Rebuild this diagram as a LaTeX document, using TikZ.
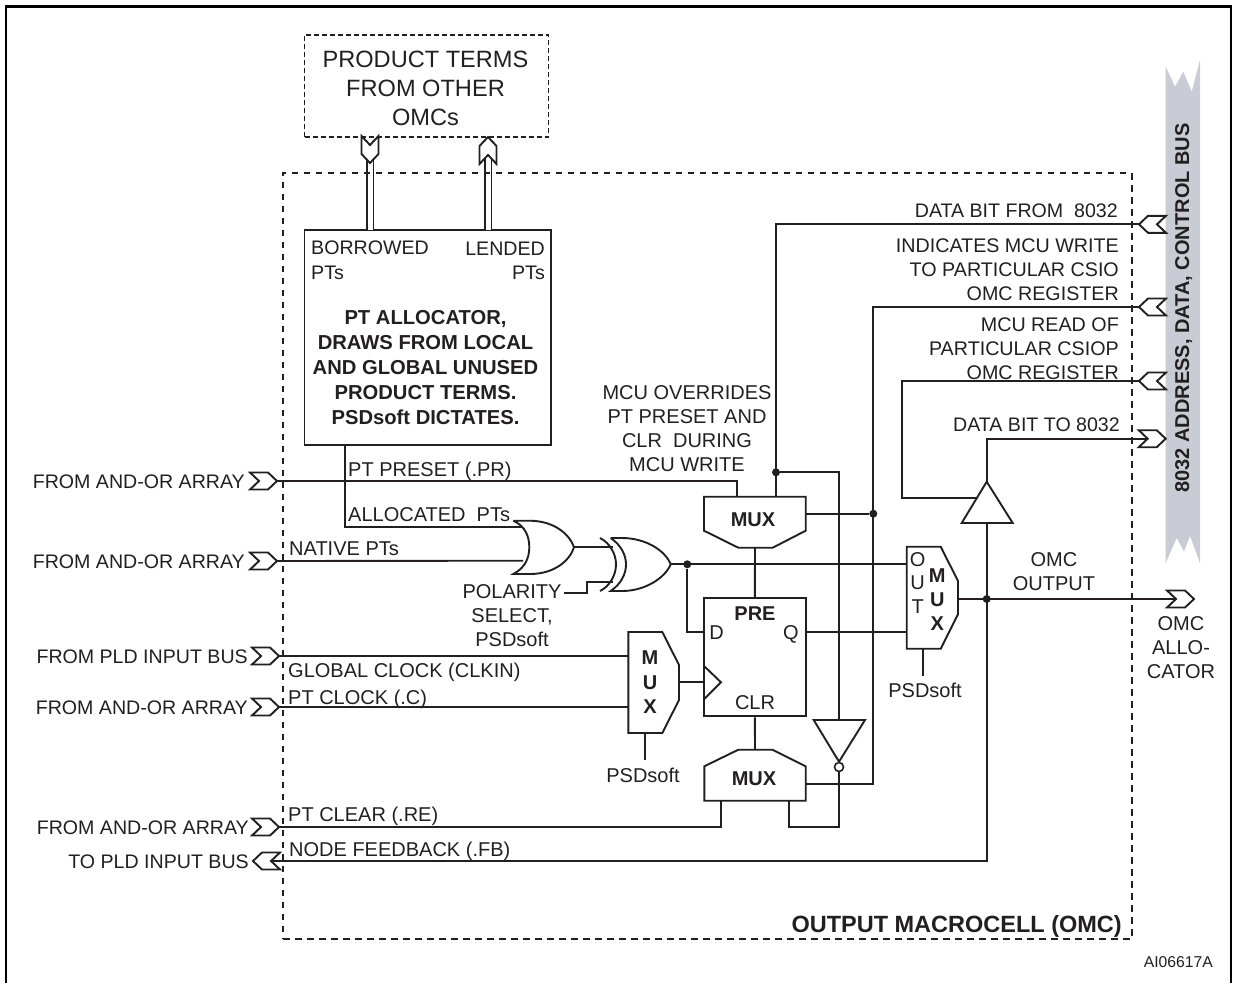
\documentclass[tikz,border=0pt]{standalone}
\usepackage{fontspec}
\setmainfont{Liberation Sans}
\definecolor{ink}{HTML}{231F20}
\definecolor{busgrey}{HTML}{C9CCD4}
\tikzset{
  port/.pic={\draw[wire, fill=white] (0,0) -- (-9,-8.5) -- (-27,-8.5) -- (-18,0) -- (-27,8.5) -- (-9,8.5) -- cycle;}
}
\begin{document}
\begin{tikzpicture}[
  x=1pt, y=-1pt,
  wire/.style={draw=ink, line width=1.9pt, line join=miter},
  gate/.style={draw=ink, line width=1.9pt, fill=white, line join=miter},
  frameline/.style={draw=black, line width=2.6pt},
  dashbox/.style={draw=ink, line width=1.8pt, dash pattern=on 6.5pt off 5.5pt},
  finebox/.style={draw=ink, line width=1.8pt, dash pattern=on 5pt off 3pt},
  solidbox/.style={draw=ink, line width=1.9pt, fill=white, inner sep=0pt},
  twin/.style={draw=ink, double=white, line width=1.9pt, double distance=5pt},
  dot/.style={circle, fill=ink, inner sep=0pt, minimum size=8pt},
  tag/.style={font=\fontsize{20}{24}\selectfont, text=ink, inner sep=0pt, text height=14.3pt, text depth=0pt},
  porttag/.style={font=\fontsize{19.6}{24}\selectfont, text=ink, inner sep=0pt, text height=14.1pt, text depth=0pt},
  block/.style={font=\fontsize{20}{24}\selectfont, text=ink, inner sep=0pt, align=center},
  rblock/.style={font=\fontsize{19.7}{24}\selectfont, text=ink, inner sep=0pt, align=right},
  btag/.style={font=\fontsize{20}{24.5}\selectfont\bfseries, text=ink, inner sep=0pt, text height=14.3pt, text depth=0pt},
]
  \useasboundingbox (0,0) rectangle (1237,983);

  % Frame
  \coordinate (fbl) at (6,983);
  \coordinate (fbr) at (1231,983);
  \coordinate (ftl) at (6,6.5);
  \coordinate (ftr) at (1231,6.5);
  \draw[frameline] (fbl) -- (ftl) -- (ftr) -- (fbr);

  % Address, data and control bus
  \fill[busgrey] (1165.7,66.7) -- (1175,86.7) -- (1183.3,71.7) -- (1191.7,91.7) -- (1200,60)
    -- (1200,563) -- (1190,536) -- (1184,551.7) -- (1176.7,538) -- (1165.7,563) -- cycle;
  \node[btag, rotate=90] (busname) at (1182,308) {8032 ADDRESS, DATA, CONTROL BUS};

  % Boxes
  \node[finebox, minimum width=244pt, minimum height=102.3pt, inner sep=0pt] (other) at (426.5,85.85) {};
  \node[inner sep=0pt, align=center, font=\fontsize{23.6}{29}\selectfont, text=ink] (tother) at (425.5,88) {PRODUCT TERMS\\FROM OTHER\\OMCs};
  \node[solidbox, minimum width=246.5pt, minimum height=215pt] (alloc) at (427.7,337.5) {};
  \node[solidbox, minimum width=101.7pt, minimum height=118.3pt] (ff) at (754.85,657.15) {};

  % Wire points
  \coordinate (pa) at (277,481);
  \coordinate (pb) at (277,561);
  \coordinate (pc) at (279,656);
  \coordinate (pd) at (279,707);
  \coordinate (pe) at (279,827);
  \coordinate (pf) at (253,861);
  \coordinate (pfn) at (272,861);
  \coordinate (db) at (1139,224.3);
  \coordinate (cs) at (1139,307);
  \coordinate (rd) at (1139,381);
  \coordinate (dt) at (1165.7,438.7);
  \coordinate (dtn) at (1147,438.7);
  \coordinate (ot) at (1194,599);
  \coordinate (otn) at (1176,599);
  \coordinate (bor) at (370,230);
  \coordinate (borh) at (370,163);
  \coordinate (borm) at (370,155);
  \coordinate (len) at (488,230);
  \coordinate (lenh) at (488,137);
  \coordinate (lenm) at (488,155);
  \coordinate (aout) at (345,445);
  \coordinate (ora) at (523,526.7);
  \coordinate (orb) at (523,560.7);
  \coordinate (oro) at (574,547.3);
  \coordinate (xa) at (613,547.3);
  \coordinate (xb) at (612.7,581.7);
  \coordinate (xo) at (670.7,564.3);
  \coordinate (polb) at (586.7,581.7);
  \coordinate (pol) at (564,592.7);
  \coordinate (m1a) at (737.3,496.7);
  \coordinate (m1b) at (776,496.7);
  \coordinate (m1s) at (755,547.7);
  \coordinate (m1o) at (805.7,513.7);
  \coordinate (m2a) at (721,800.7);
  \coordinate (m2b) at (788.7,800.7);
  \coordinate (m2l) at (788.7,827);
  \coordinate (m2n) at (755,749.7);
  \coordinate (m2o) at (805.7,784.3);
  \coordinate (wj) at (873.3,784.3);
  \coordinate (ffd) at (704,632);
  \coordinate (ffq) at (805.7,632);
  \coordinate (ffc) at (704,682.3);
  \coordinate (cma) at (628.3,656);
  \coordinate (cmb) at (628.3,707);
  \coordinate (cmo) at (679,682.3);
  \coordinate (cms) at (645,733);
  \coordinate (cmp) at (645,760);
  \coordinate (oma) at (906.7,564.3);
  \coordinate (omb) at (906.7,632);
  \coordinate (omo) at (958,599);
  \coordinate (oms) at (923.3,648.7);
  \coordinate (omp) at (923.3,676);
  \coordinate (bufi) at (986.7,523);
  \coordinate (bufo) at (986.7,481.7);
  \coordinate (bufl) at (975.7,497.7);
  \coordinate (rdl) at (902.3,497.7);
  \coordinate (invi) at (839,720);

  % Twin lines to the other macrocells
  \draw[twin] (bor) -- (borm);
  \draw[twin] (len) -- (lenm);
  \pic[rotate=-90] at (borh) {port};
  \pic[rotate=90] at (lenh) {port};

  % Macrocell outline
  \node[dashbox, minimum width=848.7pt, minimum height=766pt, inner sep=0pt] (omc) at (707.35,556) {};

  % Wires
  \draw[wire] (pa) -| (m1a);
  \draw[wire] (pb) -- (orb);
  \draw[wire] (aout) |- (ora);
  \draw[wire] (oro) -- (xa);
  \draw[wire] (pol) -| (polb) -- (xb);
  \draw[wire] (xo) -- (oma);
  \draw[wire] (pc) -- (cma);
  \draw[wire] (pd) -- (cmb);
  \draw[wire] (cmo) -- (ffc);
  \draw[wire] (cms) -- (cmp);
  \draw[wire] (pe) -| (m2a);
  \draw[wire] (pfn) -| (bufi);
  \draw[wire] (db) -| (m1b);
  \draw[wire] (cs) -| (wj) -- (m2o);
  \draw[wire] (rd) -| (rdl) -- (bufl);
  \draw[wire] (bufo) |- (dtn);
  \draw[wire] (m1s) -- (ff.north);
  \draw[wire] (ff.south) -- (m2n);
  \draw[wire] (ffq) -- (omb);
  \draw[wire] (omo) -- (otn);
  \draw[wire] (oms) -- (omp);

  % Junctions
  \node[dot] (dtop) at (776,472.3) {};
  \node[dot] (dmid) at (873.3,513.7) {};
  \node[dot] (dxor) at (687.3,564.3) {};
  \node[dot] (dout) at (986.7,599) {};
  \draw[wire] (dtop) -| (invi);
  \draw[wire] (m1o) -- (dmid);
  \draw[wire] (dxor) |- (ffd);

  % Inverter
  \draw[gate] (813.7,720) -- (865,720) -- (839,761.7) -- cycle;
  \node[circle, draw=ink, line width=1.6pt, fill=white, inner sep=0pt, minimum size=9pt] (bub) at (839,767) {};
  \draw[wire] (bub.south) |- (m2l) -- (m2b);

  % Buffer
  \draw[gate] (986.7,481.7) -- (1012.7,523) -- (961.7,523) -- cycle;

  % Multiplexers
  \draw[gate] (704,496.7) -- (805.7,496.7) -- (805.7,530.7) -- (772.7,547.7) -- (738.3,547.7) -- (704,530.7) -- cycle;
  \draw[gate] (704.3,800.7) -- (805.7,800.7) -- (805.7,766.3) -- (772.3,749.7) -- (738.3,749.7) -- (704.3,766.3) -- cycle;
  \draw[gate] (628.3,632) -- (662.3,632) -- (679,665) -- (679,700) -- (662.3,733) -- (628.3,733) -- cycle;
  \draw[gate] (906.7,546.7) -- (940.7,546.7) -- (958,581) -- (958,614.3) -- (940.7,648.7) -- (906.7,648.7) -- cycle;

  % OR and XOR gates
  \draw[gate] (513.3,520.7) -- (530,520.7) .. controls (555,521) and (570,535) .. (574,547.3)
    .. controls (570,560) and (555,574) .. (530,574) -- (513.3,574)
    .. controls (525,568) and (529.3,558) .. (529.3,547.3) .. controls (529.3,536) and (525,526) .. (513.3,520.7);
  \draw[gate] (610.7,538) -- (622,538) .. controls (645,538) and (665,550) .. (670.7,564.3)
    .. controls (665,578) and (645,591) .. (622,591) -- (610.7,591)
    .. controls (621,584) and (626,574) .. (626,564.3) .. controls (626,555) and (621,545) .. (610.7,538);
  \draw[wire] (600,538) .. controls (610,543) and (616,554) .. (616,564.3) .. controls (616,575) and (610,586) .. (600,591);

  % Clock triangle
  \draw[wire] (704,666) -- (721,682.3) -- (704,699.3);

  % Ports
  \pic at (pa) {port};
  \pic at (pb) {port};
  \pic at (pc) {port};
  \pic at (pd) {port};
  \pic at (pe) {port};
  \pic[rotate=180] at (pf) {port};
  \pic[rotate=180] at (db) {port};
  \pic[rotate=180] at (cs) {port};
  \pic[rotate=180] at (rd) {port};
  \pic at (dt) {port};
  \pic at (ot) {port};

  % Port labels (left)
  \node[porttag, anchor=east] (la) at (245,481) {FROM AND-OR ARRAY};
  \node[porttag, anchor=east] (lb) at (245,561) {FROM AND-OR ARRAY};
  \node[porttag, anchor=east] (lc) at (248,656) {FROM PLD INPUT BUS};
  \node[porttag, anchor=east] (ld) at (248,707) {FROM AND-OR ARRAY};
  \node[porttag, anchor=east] (le) at (249,827) {FROM AND-OR ARRAY};
  \node[porttag, anchor=east] (lf) at (249,861) {TO PLD INPUT BUS};

  % Wire labels (left)
  \node[tag, anchor=west] (tpr) at (348,469) {PT PRESET (.PR)};
  \node[tag, anchor=west] (tal) at (348,514) {ALLOCATED\ \ PTs};
  \node[tag, anchor=west] (tna) at (289,548) {NATIVE PTs};
  \node[tag, anchor=west] (tgc) at (288,670) {GLOBAL CLOCK (CLKIN)};
  \node[tag, anchor=west] (tpc) at (288,697) {PT CLOCK (.C)};
  \node[tag, anchor=west] (tcl) at (288,814) {PT CLEAR (.RE)};
  \node[tag, anchor=west] (tfb) at (289,849) {NODE FEEDBACK (.FB)};
  \node[block] (tpo) at (512,616) {POLARITY\\SELECT,\\PSDsoft};

  % Allocator text
  \node[porttag, anchor=west] (tbo) at (311,247) {BORROWED};
  \node[porttag, anchor=west] (tbp) at (311,272) {PTs};
  \node[porttag, anchor=east] (tle) at (545,248) {LENDED};
  \node[porttag, anchor=east] (tlp) at (545,272) {PTs};
  \node[block, font=\fontsize{20.2}{25}\selectfont\bfseries] (tal2) at (425.5,368) {PT ALLOCATOR,\\DRAWS FROM LOCAL\\AND GLOBAL UNUSED\\PRODUCT TERMS.\\PSDsoft DICTATES.};

  % Wire labels (right)
  \node[block] (tov) at (687,429) {MCU OVERRIDES\\PT PRESET AND\\CLR\ \ DURING\\MCU WRITE};
  \node[porttag, anchor=east] (tdb) at (1118,210) {DATA BIT FROM\ \ 8032};
  \node[rblock, anchor=east] (tin) at (1119,270) {INDICATES MCU WRITE\\TO PARTICULAR CSIO\\OMC REGISTER};
  \node[rblock, anchor=east] (trd) at (1119,349) {MCU READ OF\\PARTICULAR CSIOP\\OMC REGISTER};
  \node[porttag, anchor=east] (tdt) at (1120,424) {DATA BIT TO 8032};
  \node[block] (tou) at (1054,572) {OMC\\OUTPUT};
  \node[block] (tca) at (1181,648) {OMC\\ALLO-\\CATOR};

  % Mux and flip-flop text
  \node[btag] (mxa) at (753,519) {MUX};
  \node[btag] (mxb) at (754,778) {MUX};
  \node[btag] (cmm) at (650,657) {M};
  \node[btag] (cmu) at (650,682) {U};
  \node[btag] (cmx) at (650,706) {X};
  \node[tag] (oo) at (917.7,559) {O};
  \node[tag] (ou) at (917.7,582.7) {U};
  \node[tag] (ott) at (917.7,606.7) {T};
  \node[btag] (omm) at (937.3,575) {M};
  \node[btag] (omu) at (937.3,599) {U};
  \node[btag] (omx) at (937.3,623) {X};
  \node[btag] (tpre) at (755,613) {PRE};
  \node[tag] (td) at (716.7,632) {D};
  \node[tag] (tq) at (791,632) {Q};
  \node[tag] (tclr) at (755,702) {CLR};
  \node[tag] (tps) at (643,775) {PSDsoft};
  \node[tag] (tpt) at (925,690) {PSDsoft};

  % Corner text
  \node[tag, anchor=east, font=\fontsize{23.5}{28}\selectfont\bfseries, text height=17pt] (tomc) at (1122,924) {OUTPUT MACROCELL (OMC)};
  \node[tag, anchor=east, font=\fontsize{15.7}{19}\selectfont, text height=11.3pt] (tai) at (1213,962) {AI06617A};
\end{tikzpicture}
\end{document}
